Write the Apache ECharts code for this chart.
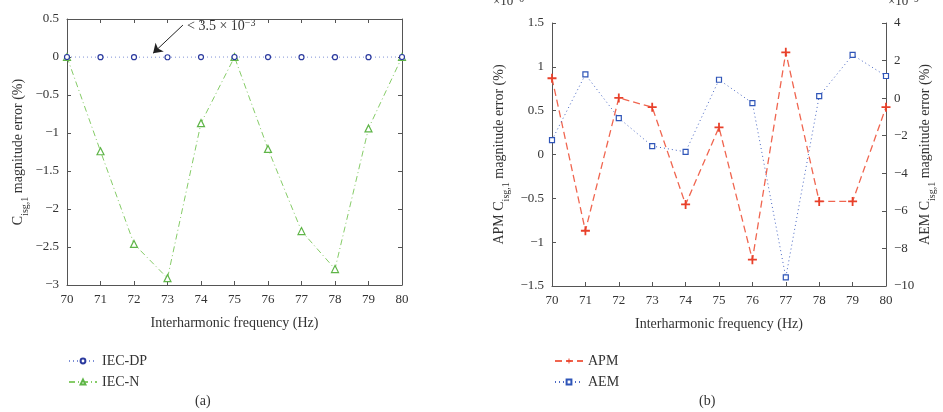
<!DOCTYPE html>
<html>
<head>
<meta charset="utf-8">
<script src="https://cdn.jsdelivr.net/npm/echarts@6/dist/echarts.min.js"></script>
<style>
  html, body { margin: 0; padding: 0; background: #fff; }
  #chart { width: 943px; height: 412px; }
</style>
</head>
<body>
<div id="chart"></div>
<script>
// x values (Hz)
const freqs = [70, 71, 72, 73, 74, 75, 76, 77, 78, 79, 80];

// panel (a), error in %
const iecDP = [0, -0.002, -0.002, -0.003, -0.001, 0, -0.001, -0.002, -0.002, -0.002, 0];
const iecN = [0, -1.24, -2.46, -2.91, -0.87, 0, -1.21, -2.29, -2.79, -0.94, 0];

// panel (b), APM in 1e-6 %, AEM in 1e-9 %
const apm = [0.87, -0.87, 0.645, 0.54, -0.57, 0.31, -1.2, 1.165, -0.535, -0.535, 0.54];
const aem = [-2.23, 1.26, -1.06, -2.55, -2.86, 0.98, -0.26, -9.54, 0.11, 2.3, 1.18];

// annotation arrow in panel (a), data coords [tail, head]
const arrowTail = [73.46, 0.42];
const arrowHead = [72.57, 0.05];

const FONT = '"Liberation Serif", "DejaVu Serif", serif';
const AX = '#555';
const TXT = '#333';
const minus = v => String(v).replace('-', '\u2212');

const chart = echarts.init(document.getElementById('chart'), null, { renderer: 'canvas' });

const pair = arr => arr.map((v, i) => [freqs[i], v]);

const subRich = {
  s: { fontFamily: FONT, fontSize: 10, color: TXT, verticalAlign: 'bottom', padding: [0, 0, -5, 0] }
};

function xAxisBase(grid, show) {
  return {
    type: 'value', gridIndex: grid, min: 70, max: 80, interval: 1,
    axisLine: { show: true, onZero: false, lineStyle: { color: AX, width: 1 } },
    axisTick: { show: true, inside: true, length: 4, lineStyle: { color: AX } },
    axisLabel: { show: show, color: TXT, fontFamily: FONT, fontSize: 13, margin: 8 },
    splitLine: { show: false }
  };
}

function yAxisBase(grid, min, max, interval, show) {
  return {
    type: 'value', gridIndex: grid, min: min, max: max, interval: interval,
    axisLine: { show: true, onZero: false, lineStyle: { color: AX, width: 1 } },
    axisTick: { show: true, inside: true, length: 4, lineStyle: { color: AX } },
    axisLabel: { show: show, color: TXT, fontFamily: FONT, fontSize: 13, margin: 8, formatter: minus },
    splitLine: { show: false }
  };
}

const xName = {
  name: 'Interharmonic frequency (Hz)', nameLocation: 'middle', nameGap: 31,
  nameTextStyle: { color: TXT, fontFamily: FONT, fontSize: 14 }
};

const legendBase = {
  orient: 'vertical', itemGap: 7, itemWidth: 28, itemHeight: 6, top: 349,
  textStyle: { color: TXT, fontFamily: FONT, fontSize: 14 }
};

const option = {
  animation: false,
  backgroundColor: '#fff',
  grid: [
    { left: 67, right: 541, top: 19, bottom: 127 },
    { left: 552, right: 57, top: 23, bottom: 126 }
  ],
  xAxis: [
    Object.assign(xAxisBase(0, true), xName),
    Object.assign(xAxisBase(0, false), { position: 'top' }),
    Object.assign(xAxisBase(1, true), xName)
  ],
  yAxis: [
    Object.assign(yAxisBase(0, -3, 0.5, 0.5, true), {
      name: 'C{s|isg,1} magnitude error (%)', nameLocation: 'middle', nameGap: 42,
      nameTextStyle: { color: TXT, fontFamily: FONT, fontSize: 14, rich: subRich }
    }),
    Object.assign(yAxisBase(0, -3, 0.5, 0.5, false), { position: 'right' }),
    Object.assign(yAxisBase(1, -1.5, 1.5, 0.5, true), {
      name: 'APM C{s|isg,1} magnitude error (%)', nameLocation: 'middle', nameGap: 46,
      nameTextStyle: { color: TXT, fontFamily: FONT, fontSize: 14, rich: subRich }
    }),
    Object.assign(yAxisBase(1, -10, 4, 2, true), {
      position: 'right',
      name: 'AEM C{s|isg,1} magnitude error (%)', nameLocation: 'middle', nameGap: 30,
      nameRotate: 90,
      nameTextStyle: { color: TXT, fontFamily: FONT, fontSize: 14, rich: subRich }
    })
  ],
  legend: [
    Object.assign({ left: 63, data: ['IEC-DP', 'IEC-N'] }, legendBase),
    Object.assign({ left: 549, data: ['APM', 'AEM'] }, legendBase)
  ],
  series: [
    {
      name: 'IEC-DP', type: 'line', xAxisIndex: 0, yAxisIndex: 0,
      data: pair(iecDP),
      symbol: 'circle', symbolSize: 5,
      itemStyle: { color: '#fff', borderColor: '#2b3a9e', borderWidth: 1.2 },
      lineStyle: { color: '#7d8fd6', width: 1, type: [1, 3] },
      markLine: {
        silent: true, symbol: ['none', 'arrow'], symbolSize: 9,
        lineStyle: { color: '#222', width: 1, type: 'solid' },
        label: { show: false },
        data: [[{ coord: arrowTail }, { coord: arrowHead }]]
      },
      z: 3
    },
    {
      name: 'IEC-N', type: 'line', xAxisIndex: 0, yAxisIndex: 0,
      data: pair(iecN),
      symbol: 'triangle', symbolSize: 7,
      itemStyle: { color: '#fff', borderColor: '#5fb548', borderWidth: 1.2 },
      lineStyle: { color: '#86cc68', width: 1, type: [6, 3, 1, 3] },
      z: 2
    },
    {
      name: 'APM', type: 'line', xAxisIndex: 2, yAxisIndex: 2,
      data: pair(apm),
      symbol: 'path://M4,0H6V4H10V6H6V10H4V6H0V4H4Z', symbolSize: 9,
      itemStyle: { color: '#e8402a' },
      lineStyle: { color: '#f0654f', width: 1.3, type: [7, 4] },
      z: 2
    },
    {
      name: 'AEM', type: 'line', xAxisIndex: 2, yAxisIndex: 3,
      data: pair(aem),
      symbol: 'rect', symbolSize: 5,
      itemStyle: { color: '#fff', borderColor: '#2f55b8', borderWidth: 1.2 },
      lineStyle: { color: '#4a68c4', width: 1, type: [1, 3] },
      z: 3
    }
  ],
  graphic: [
    {
      type: 'text', left: 187, top: 18,
      style: {
        text: '< 3.5 × 10{p|\u22123}', fill: TXT, font: '14px ' + FONT,
        rich: { p: { fontFamily: FONT, fontSize: 10, fill: TXT, padding: [-6, 0, 0, 0] } }
      }
    },
    {
      type: 'text', left: 493, top: -6,
      style: {
        text: '×10{p|\u22126}', fill: TXT, font: '13px ' + FONT,
        rich: { p: { fontFamily: FONT, fontSize: 10, fill: TXT, padding: [-6, 0, 0, 0] } }
      }
    },
    {
      type: 'text', left: 888, top: -6,
      style: {
        text: '×10{p|\u22129}', fill: TXT, font: '13px ' + FONT,
        rich: { p: { fontFamily: FONT, fontSize: 10, fill: TXT, padding: [-6, 0, 0, 0] } }
      }
    },
    { type: 'text', left: 195, top: 394, style: { text: '(a)', fill: TXT, font: '14px ' + FONT } },
    { type: 'text', left: 699, top: 394, style: { text: '(b)', fill: TXT, font: '14px ' + FONT } }
  ]
};

chart.setOption(option);
window.addEventListener('resize', () => chart.resize());
</script>
</body>
</html>
